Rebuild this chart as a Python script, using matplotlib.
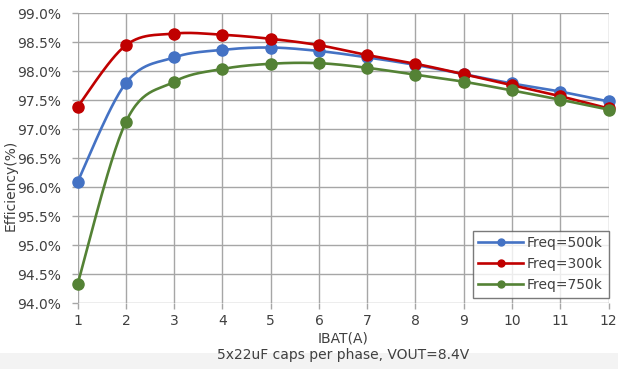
import numpy as np
import matplotlib
matplotlib.use("Agg")
import matplotlib.pyplot as plt
from matplotlib.ticker import FuncFormatter
from matplotlib.patches import Rectangle

ibat = [1, 2, 3, 4, 5, 6, 7, 8, 9, 10, 11, 12]
eff_500k = [96.10, 97.80, 98.24, 98.37, 98.41, 98.35, 98.24, 98.11, 97.95, 97.79, 97.65, 97.48]
eff_300k = [97.39, 98.45, 98.65, 98.63, 98.56, 98.45, 98.28, 98.13, 97.95, 97.76, 97.57, 97.36]
eff_750k = [94.34, 97.13, 97.82, 98.04, 98.13, 98.14, 98.06, 97.94, 97.82, 97.67, 97.51, 97.34]
labels = ["Freq=500k", "Freq=300k", "Freq=750k"]
colors = ["#4472C4", "#C00000", "#548235"]

TXT = "#404040"


def smooth(x, y, n=30):
    # Excel-like smoothed line: cubic bezier through points
    x = np.asarray(x, float)
    y = np.asarray(y, float)
    px = np.concatenate([[x[0]], x, [x[-1]]])
    py = np.concatenate([[y[0]], y, [y[-1]]])
    xs, ys = [], []
    t = np.linspace(0, 1, n)
    for i in range(1, len(px) - 2):
        p0 = np.array([px[i], py[i]])
        p3 = np.array([px[i + 1], py[i + 1]])
        c1 = p0 + (np.array([px[i + 1], py[i + 1]]) - np.array([px[i - 1], py[i - 1]])) / 6
        c2 = p3 - (np.array([px[i + 2], py[i + 2]]) - np.array([px[i], py[i]])) / 6
        b = ((1 - t) ** 3)[:, None] * p0 + (3 * (1 - t) ** 2 * t)[:, None] * c1 \
            + (3 * (1 - t) * t ** 2)[:, None] * c2 + (t ** 3)[:, None] * p3
        xs.extend(b[:, 0])
        ys.extend(b[:, 1])
    return xs, ys


fig = plt.figure(figsize=(6.18, 3.69), dpi=100)
# faint grey strip along the bottom edge of the screenshot
fig.patches.append(Rectangle((0, 0), 1, 16 / 369, transform=fig.transFigure,
                             facecolor="#f3f3f3", edgecolor="none", zorder=0))
ax = fig.add_axes([77.7 / 618, 1 - 303.3 / 369, (608.5 - 77.7) / 618, (303.3 - 13.3) / 369])

for ys_, lab, c in zip([eff_500k, eff_300k, eff_750k], labels, colors):
    sx, sy = smooth(ibat, ys_)
    ax.plot(sx, sy, color=c, lw=1.9, zorder=3, clip_on=False)
    ax.plot(ibat, ys_, "o", color=c, ms=8, zorder=3, clip_on=False)
    ax.plot([], [], "-o", color=c, lw=1.9, ms=5, label=lab)

ax.set_xlim(1, 12)
ax.set_ylim(94.0, 99.0)
ax.set_xticks(ibat)
ax.set_yticks(np.arange(94.0, 99.01, 0.5))
ax.yaxis.set_major_formatter(FuncFormatter(lambda v, p: "%.1f%%" % v))
ax.grid(True, color="#a6a6a6", lw=1)
for s in ax.spines.values():
    s.set_visible(False)
ax.tick_params(colors="#a6a6a6", length=4, width=1, labelcolor=TXT, labelsize=10)
ax.tick_params(axis="y", pad=8)
ax.tick_params(axis="x", pad=4)

ax.set_xlabel("IBAT(A)", color=TXT, fontsize=10, labelpad=2)
fig.text(343 / 618, 1 - 355 / 369, "5x22uF caps per phase, VOUT=8.4V", color=TXT,
         fontsize=10, ha="center", va="center")
fig.text(11 / 618, 1 - 185 / 369, "Efficiency(%)", color=TXT, fontsize=10,
         rotation=90, ha="center", va="center")

leg = ax.legend(loc="lower right", bbox_to_anchor=(1.0, 0.02), frameon=True, fancybox=False,
                fontsize=10, handlelength=3.2, handletextpad=0.3, labelspacing=0.5,
                borderpad=0.4, borderaxespad=0.0)
leg.get_frame().set_edgecolor("#595959")
leg.get_frame().set_linewidth(1)
for t in leg.get_texts():
    t.set_color(TXT)

fig.savefig("out.png", dpi=100)
